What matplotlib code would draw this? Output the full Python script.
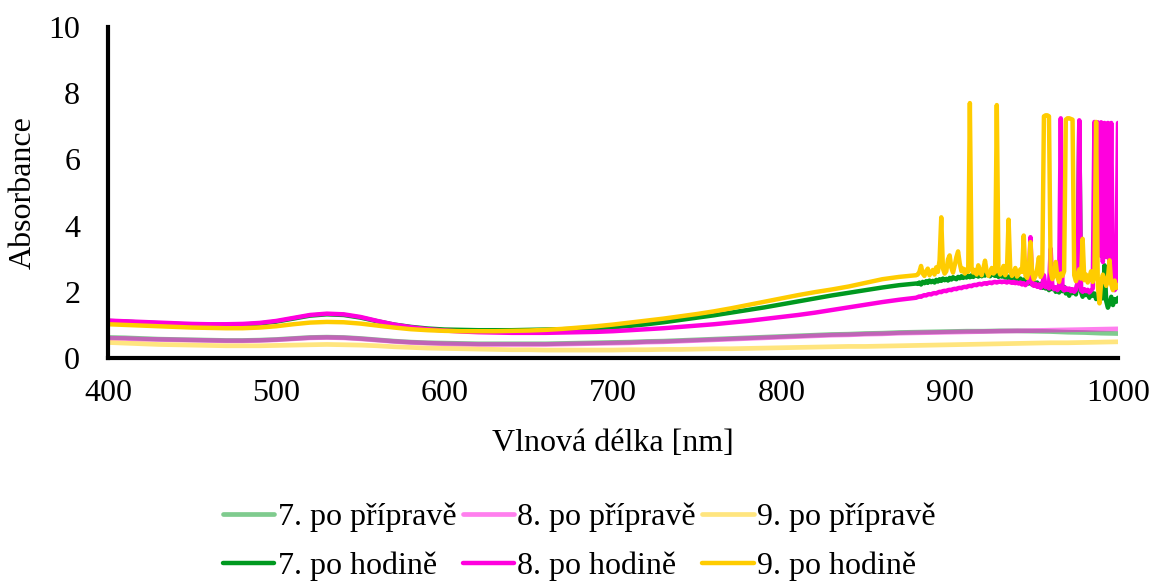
import numpy as np
import matplotlib
matplotlib.use("Agg")
import matplotlib.pyplot as plt

plt.rcParams["font.family"] = ["Liberation Serif", "DejaVu Serif"]

# Wavelength grids [nm]
wl_coarse = np.arange(400, 881, 10)      # 400 ... 880
wl_fine = np.arange(881, 1001, 1)        # 881 ... 1000
wl_light = np.arange(400, 1001, 10)      # 400 ... 1000

# Absorbance right after preparation (10 nm step)
a7_prep = [0.62, 0.61, 0.59, 0.57, 0.56, 0.55, 0.54, 0.53, 0.53, 0.54,
           0.56, 0.59, 0.62, 0.63, 0.62, 0.59, 0.55, 0.51, 0.48, 0.46,
           0.45, 0.44, 0.43, 0.43, 0.43, 0.43, 0.43, 0.44, 0.45, 0.46,
           0.47, 0.48, 0.50, 0.51, 0.53, 0.55, 0.57, 0.59, 0.61, 0.63,
           0.65, 0.67, 0.69, 0.71, 0.72, 0.74, 0.75, 0.77, 0.78, 0.79,
           0.80, 0.81, 0.81, 0.82, 0.82, 0.81, 0.80, 0.78, 0.77, 0.75, 0.74]
a8_prep = [0.60, 0.59, 0.57, 0.56, 0.55, 0.54, 0.53, 0.52, 0.52, 0.53,
           0.55, 0.58, 0.61, 0.62, 0.61, 0.58, 0.54, 0.50, 0.47, 0.45,
           0.43, 0.42, 0.41, 0.41, 0.41, 0.41, 0.41, 0.42, 0.43, 0.44,
           0.45, 0.46, 0.48, 0.49, 0.51, 0.53, 0.55, 0.57, 0.59, 0.61,
           0.63, 0.65, 0.67, 0.69, 0.70, 0.72, 0.73, 0.75, 0.76, 0.77,
           0.78, 0.79, 0.80, 0.81, 0.82, 0.83, 0.84, 0.85, 0.86, 0.87, 0.88]
a9_prep = [0.47, 0.45, 0.43, 0.41, 0.40, 0.39, 0.38, 0.37, 0.37, 0.37,
           0.38, 0.39, 0.40, 0.41, 0.40, 0.39, 0.37, 0.34, 0.32, 0.30,
           0.29, 0.28, 0.27, 0.26, 0.25, 0.25, 0.24, 0.24, 0.24, 0.24,
           0.24, 0.25, 0.25, 0.26, 0.26, 0.27, 0.28, 0.28, 0.29, 0.30,
           0.31, 0.32, 0.33, 0.34, 0.35, 0.35, 0.36, 0.37, 0.38, 0.39,
           0.40, 0.41, 0.42, 0.43, 0.44, 0.45, 0.46, 0.46, 0.47, 0.48, 0.49]

# Absorbance after one hour, 400-880 nm (10 nm step)
a7_hour_vis = [1.12, 1.10, 1.07, 1.05, 1.03, 1.01, 1.00, 1.00, 1.01, 1.04,
               1.10, 1.19, 1.28, 1.32, 1.30, 1.22, 1.11, 1.01, 0.94, 0.89,
               0.86, 0.85, 0.84, 0.84, 0.84, 0.85, 0.86, 0.87, 0.88, 0.90,
               0.93, 0.97, 1.02, 1.08, 1.15, 1.22, 1.29, 1.37, 1.45, 1.53,
               1.62, 1.71, 1.80, 1.89, 1.97, 2.05, 2.13, 2.20, 2.25]
a8_hour_vis = [1.13, 1.11, 1.09, 1.07, 1.05, 1.03, 1.02, 1.02, 1.03, 1.06,
               1.12, 1.21, 1.30, 1.34, 1.32, 1.24, 1.12, 1.01, 0.93, 0.87,
               0.83, 0.80, 0.78, 0.77, 0.76, 0.76, 0.76, 0.77, 0.78, 0.79,
               0.81, 0.84, 0.87, 0.90, 0.94, 0.98, 1.02, 1.07, 1.12, 1.18,
               1.24, 1.30, 1.37, 1.45, 1.53, 1.61, 1.69, 1.76, 1.82]
a9_hour_vis = [1.02, 1.00, 0.98, 0.96, 0.94, 0.92, 0.91, 0.90, 0.90, 0.92,
               0.96, 1.02, 1.07, 1.09, 1.08, 1.04, 0.98, 0.92, 0.87, 0.84,
               0.82, 0.81, 0.81, 0.81, 0.82, 0.83, 0.85, 0.88, 0.92, 0.96,
               1.01, 1.07, 1.13, 1.19, 1.26, 1.33, 1.41, 1.50, 1.60, 1.70,
               1.80, 1.90, 1.99, 2.07, 2.16, 2.27, 2.38, 2.45, 2.50]

# Absorbance after one hour, 881-1000 nm (1 nm step, noisy detector range)
a7_hour_nir = [2.24, 2.28, 2.22, 2.30, 2.26, 2.32, 2.27, 2.34, 2.29, 2.33,
               2.28, 2.36, 2.31, 2.38, 2.33, 2.40, 2.35, 2.39, 2.34, 2.42,
               2.37, 2.44, 2.40, 2.38, 2.45, 2.41, 2.47, 2.42, 2.46, 2.43,
               2.48, 2.44, 2.50, 2.45, 2.49, 2.52, 2.46, 2.51, 2.47, 2.53,
               2.49, 2.55, 2.50, 2.47, 2.54, 2.51, 2.48, 2.53, 2.45, 2.50,
               2.46, 2.52, 2.43, 2.48, 2.40, 2.46, 2.38, 2.44, 2.36, 2.42,
               2.33, 2.40, 2.30, 2.37, 2.28, 2.35, 2.25, 2.32, 2.22, 2.30,
               2.20, 2.28, 2.15, 2.24, 2.12, 2.22, 2.10, 2.18, 2.05, 2.60,
               2.08, 2.14, 2.00, 2.12, 1.98, 2.10, 2.02, 2.15, 1.95, 2.05,
               1.88, 2.08, 1.96, 2.04, 1.92, 2.30, 7.15, 2.00, 1.85, 2.02,
               1.90, 1.98, 1.82, 2.00, 1.88, 1.95, 1.78, 1.92, 1.84, 1.96,
               1.80, 2.80, 1.72, 1.52, 1.65, 1.85, 1.60, 1.78, 1.70, 1.82]
a8_hour_nir = [1.84, 1.86, 1.85, 1.88, 1.90, 1.89, 1.92, 1.93, 1.92, 1.95,
               1.96, 1.95, 1.98, 2.00, 1.99, 2.02, 2.03, 2.02, 2.05, 2.06,
               2.05, 2.08, 2.09, 2.08, 2.11, 2.12, 2.11, 2.14, 2.15, 2.14,
               2.17, 2.18, 2.17, 2.20, 2.21, 2.20, 2.23, 2.24, 2.22, 2.25,
               2.26, 2.24, 2.27, 2.28, 2.26, 2.29, 2.30, 2.28, 2.30, 2.31,
               2.29, 2.31, 2.30, 2.28, 2.31, 2.29, 2.27, 2.30, 2.26, 2.28,
               2.25, 2.28, 2.22, 2.26, 2.20, 2.25, 2.30, 3.65, 2.22, 2.18,
               2.24, 2.15, 2.22, 2.12, 2.20, 2.50, 2.14, 2.18, 2.10, 3.30,
               2.16, 2.08, 2.14, 2.05, 2.12, 7.24, 2.10, 2.04, 2.12, 2.06,
               2.10, 2.02, 2.08, 2.00, 2.06, 2.30, 7.18, 2.05, 2.00, 2.08,
               2.02, 2.06, 1.98, 2.04, 2.10, 7.13, 3.00, 7.12, 3.10, 7.12,
               2.90, 7.10, 3.05, 7.10, 2.80, 7.10, 2.10, 2.05, 2.12, 7.10]
a9_hour_nir = [2.52, 2.60, 2.78, 2.55, 2.48, 2.62, 2.70, 2.50, 2.58, 2.66,
               2.52, 2.74, 2.60, 2.95, 4.25, 2.70, 2.55, 2.62, 2.98, 3.10,
               2.72, 2.58, 2.80, 3.05, 3.22, 2.85, 2.62, 2.70, 2.55, 2.68,
               2.60, 7.70, 2.75, 2.58, 2.66, 2.52, 2.80, 2.62, 2.50, 2.70,
               2.94, 2.62, 2.48, 2.58, 2.72, 2.55, 2.60, 7.64, 2.68, 2.52,
               2.60, 2.78, 2.50, 2.62, 4.18, 2.66, 2.48, 2.58, 2.72, 2.46,
               2.55, 2.68, 2.60, 3.70, 2.50, 2.42, 2.62, 3.50, 2.55, 2.38,
               2.48, 2.70, 3.04, 2.45, 2.56, 7.30, 7.33, 7.33, 7.30, 2.60,
               2.38, 2.52, 2.90, 2.44, 2.30, 2.55, 2.48, 2.62, 7.20, 7.24,
               7.24, 7.22, 7.20, 2.50, 2.32, 2.46, 2.68, 2.40, 3.60, 2.35,
               2.52, 2.28, 2.44, 2.62, 2.30, 2.48, 7.13, 2.20, 1.65, 2.30,
               2.52, 2.36, 2.18, 2.40, 2.95, 2.22, 2.05, 2.34, 2.12, 2.20]

labels_prep = ["7. po přípravě", "8. po přípravě", "9. po přípravě"]
labels_hour = ["7. po hodině", "8. po hodině", "9. po hodině"]

x_ticks = [400, 500, 600, 700, 800, 900, 1000]
y_ticks = [0, 2, 4, 6, 8, 10]

c_green = (0.0, 0.60, 0.12)
c_magenta = (1.0, 0.0, 0.87)
c_gold = (1.0, 0.80, 0.0)

FS = 23

fig = plt.figure(figsize=(11.54, 5.85), dpi=100)
ax = fig.add_axes([0.0936, 0.388, 0.8752, 0.566])

wl_dark = np.concatenate([wl_coarse, wl_fine])
line_kw = dict(solid_joinstyle="round", solid_capstyle="round")

h7p, = ax.plot(wl_light, a7_prep, color=c_green, alpha=0.5, lw=3.4, label=labels_prep[0], **line_kw)
h8p, = ax.plot(wl_light, a8_prep, color=c_magenta, alpha=0.5, lw=3.4, label=labels_prep[1], **line_kw)
h9p, = ax.plot(wl_light, a9_prep, color=c_gold, alpha=0.5, lw=3.4, label=labels_prep[2], **line_kw)
h7h, = ax.plot(wl_dark, a7_hour_vis + a7_hour_nir, color=c_green, lw=3.2, label=labels_hour[0], **line_kw)
h8h, = ax.plot(wl_dark, a8_hour_vis + a8_hour_nir, color=c_magenta, lw=3.2, label=labels_hour[1], **line_kw)
h9h, = ax.plot(wl_dark, a9_hour_vis + a9_hour_nir, color=c_gold, lw=3.2, label=labels_hour[2], **line_kw)

ax.set_xlim(400, 1000)
ax.set_ylim(0, 10)
ax.set_xticks(x_ticks)
ax.set_yticks(y_ticks)
ax.tick_params(axis="both", length=0, labelsize=FS)
ax.tick_params(axis="y", pad=20)
ax.tick_params(axis="x", pad=15)

for side in ("top", "right"):
    ax.spines[side].set_visible(False)
for side in ("left", "bottom"):
    ax.spines[side].set_linewidth(3.0)
    ax.spines[side].set_color("black")
    ax.spines[side].set_capstyle("projecting")

ax.set_xlabel("Vlnová délka [nm]", fontsize=FS, labelpad=15)
ax.set_ylabel("Absorbance", fontsize=FS, labelpad=8)

handles = [h7p, h7h, h8p, h8h, h9p, h9h]
fig.legend(handles=handles, labels=[h.get_label() for h in handles],
           loc="center", bbox_to_anchor=(0.502, 0.0735), ncol=3,
           frameon=False, fontsize=FS, handlelength=1.6, handletextpad=0.12,
           columnspacing=0.2, labelspacing=0.62)

fig.savefig("out.png", dpi=100)
